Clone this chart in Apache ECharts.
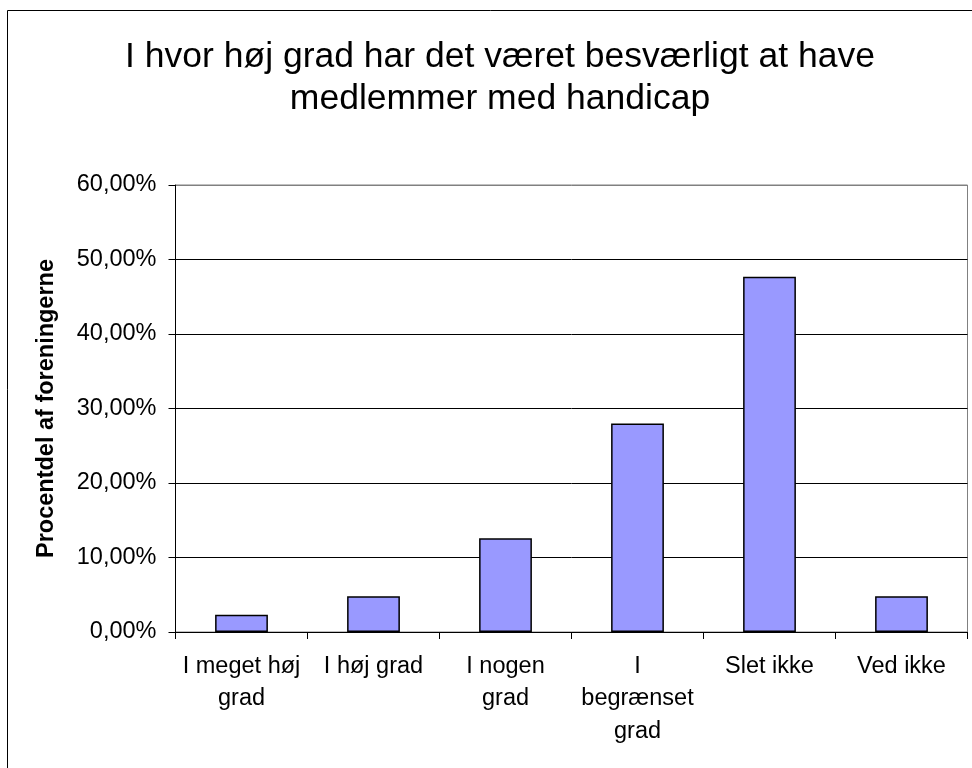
<!DOCTYPE html>
<html>
<head>
<meta charset="utf-8">
<script src="https://cdn.jsdelivr.net/npm/echarts@6/dist/echarts.min.js"></script>
<style>
html,body{margin:0;padding:0;background:#fff;}
#chart{width:972px;height:768px;}
</style>
</head>
<body>
<div id="chart"></div>
<script>
const titleText = 'I hvor høj grad har det været besværligt at have\nmedlemmer med handicap';
const yAxisName = 'Procentdel af foreningerne';
const categories = ['I meget høj\ngrad', 'I høj grad', 'I nogen\ngrad', 'I\nbegrænset\ngrad', 'Slet ikke', 'Ved ikke'];
const values = [2.3, 4.8, 12.6, 28.0, 47.7, 4.8];
const yMin = 0, yMax = 60, yStep = 10;

const chart = echarts.init(document.getElementById('chart'), null, {renderer: 'canvas'});
const FONT = '"Liberation Sans", Arial, sans-serif';
chart.setOption({
  backgroundColor: '#fff',
  animation: false,
  graphic: [{
    type: 'rect',
    shape: {x: 7.5, y: 10.5, width: 1000, height: 1000},
    style: {fill: 'none', stroke: '#000', lineWidth: 1},
    silent: true, z: -1
  }],
  title: {
    text: titleText,
    left: 495,
    top: 31,
    textAlign: 'center',
    textStyle: {fontFamily: FONT, fontSize: 35.5, fontWeight: 'normal', color: '#000', lineHeight: 42}
  },
  grid: {
    left: 175.5, right: 4.5, top: 185, bottom: 136,
    show: true, borderColor: '#808080', borderWidth: 1, backgroundColor: 'transparent'
  },
  xAxis: {
    type: 'category',
    data: categories,
    axisLine: {lineStyle: {color: '#000', width: 1}},
    axisTick: {show: true, length: 7, lineStyle: {color: '#000'}},
    axisLabel: {interval: 0, margin: 18, color: '#000', fontFamily: FONT, fontSize: 23.5, lineHeight: 32.5}
  },
  yAxis: {
    type: 'value',
    min: yMin, max: yMax, interval: yStep,
    name: yAxisName,
    nameLocation: 'middle',
    nameGap: 117,
    nameTextStyle: {fontFamily: FONT, fontSize: 23.5, fontWeight: 'bold', color: '#000'},
    axisLine: {show: true, lineStyle: {color: '#000', width: 1}},
    axisTick: {show: true, length: 7, lineStyle: {color: '#000'}},
    axisLabel: {
      margin: 19, color: '#000', fontFamily: FONT, fontSize: 23.5,
      formatter: v => v.toFixed(2).replace('.', ',') + '%'
    },
    splitLine: {show: true, lineStyle: {color: ['#000', '#000', '#000', '#000', '#000', '#000', '#808080'], width: 1}}
  },
  series: [{
    type: 'bar',
    data: values,
    barWidth: '40%',
    itemStyle: {color: '#9999FF', borderColor: '#000', borderWidth: 1.5}
  }]
});
</script>
</body>
</html>
